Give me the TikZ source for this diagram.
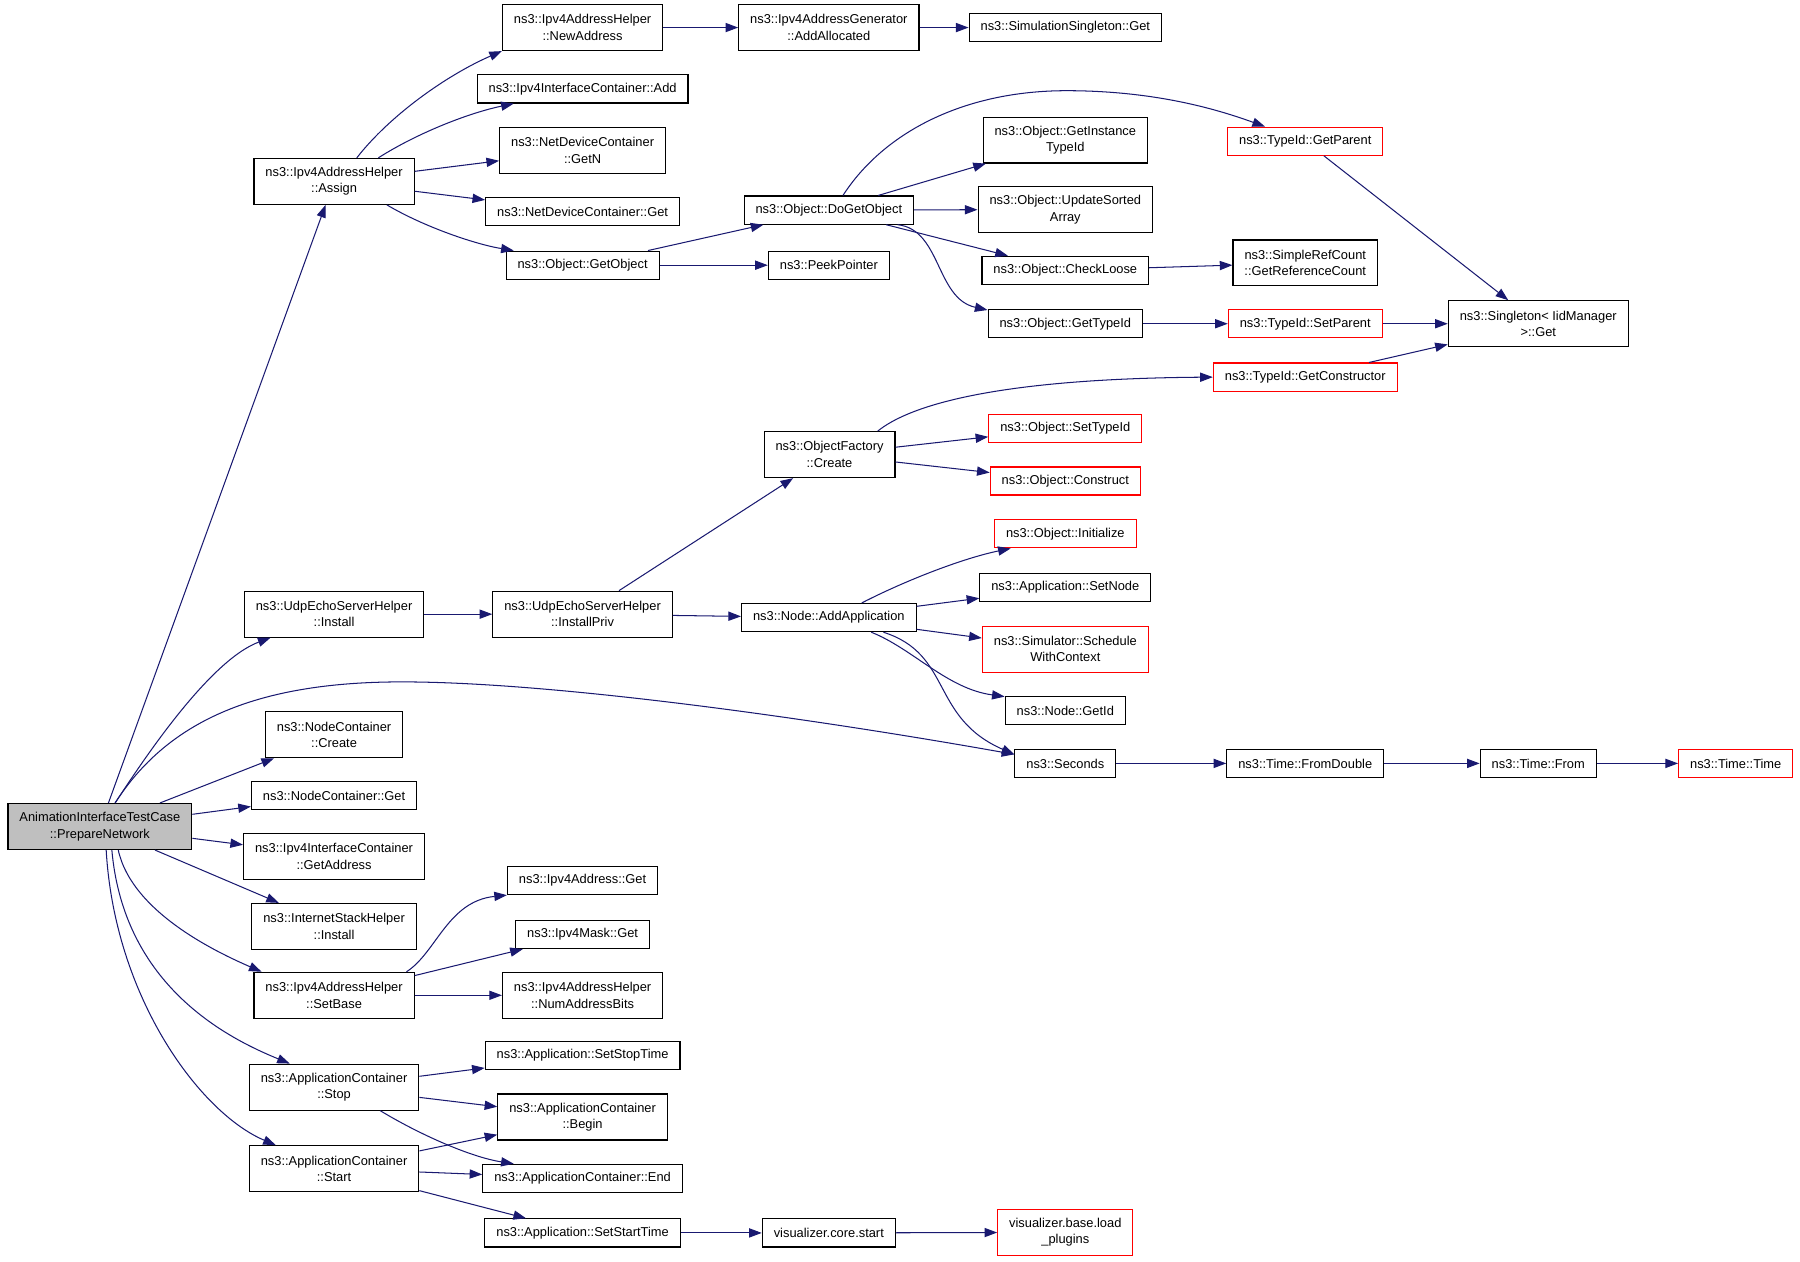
\documentclass[tikz,border=0pt]{standalone}
\usepackage{fontspec}
\setmainfont{Liberation Sans}
\usepackage{tikz}
\usetikzlibrary{arrows.meta}
\definecolor{edge}{RGB}{25, 25, 112}
\definecolor{rootfill}{RGB}{191, 191, 191}
\definecolor{miss}{RGB}{255, 0, 0}
\newcommand{\fnfont}{\fontsize{11.2}{14.3}\selectfont}

\begin{document}
\begin{tikzpicture}[x=1pt, y=-1pt,
  fn/.style={draw=black, line width=1pt, rectangle, inner xsep=10pt, inner ysep=2pt,
    minimum height=24.5pt, align=center, font=\fnfont},
  fn2/.style={fn, minimum height=40pt},
  lost/.style={draw=miss},
  call/.style={draw=edge, line width=0.9pt, -{Triangle[length=11pt, width=8pt]}}]

  \useasboundingbox (0, 0) rectangle (1568, 1098.5);

  \node[fn2, fill=rootfill] (root) at (87, 720) {AnimationInterfaceTestCase\\::PrepareNetwork};

  % callees of the test case
  \node[fn2] (assign) at (291, 158) {ns3::Ipv4AddressHelper\\::Assign};
  \node[fn2] (udpInst) at (291, 535) {ns3::UdpEchoServerHelper\\::Install};
  \node[fn2] (ncCreate) at (291, 640) {ns3::NodeContainer\\::Create};
  \node[fn] (ncGet) at (291, 693) {ns3::NodeContainer::Get};
  \node[fn2] (icGetAddr) at (291, 746) {ns3::Ipv4InterfaceContainer\\::GetAddress};
  \node[fn2] (ishInst) at (291, 807) {ns3::InternetStackHelper\\::Install};
  \node[fn2] (setBase) at (291, 867) {ns3::Ipv4AddressHelper\\::SetBase};
  \node[fn2] (acStop) at (291, 947) {ns3::ApplicationContainer\\::Stop};
  \node[fn2] (acStart) at (291, 1018) {ns3::ApplicationContainer\\::Start};

  \node[fn2] (newAddr) at (507.5, 24) {ns3::Ipv4AddressHelper\\::NewAddress};
  \node[fn] (icAdd) at (507.5, 77.5) {ns3::Ipv4InterfaceContainer::Add};
  \node[fn2] (ndcGetN) at (507.5, 131) {ns3::NetDeviceContainer\\::GetN};
  \node[fn] (ndcGet) at (507.5, 184.5) {ns3::NetDeviceContainer::Get};
  \node[fn] (getObj) at (507.5, 231) {ns3::Object::GetObject};
  \node[fn2] (installPriv) at (507.5, 535) {ns3::UdpEchoServerHelper\\::InstallPriv};
  \node[fn] (addrGet) at (507.5, 767) {ns3::Ipv4Address::Get};
  \node[fn] (maskGet) at (507.5, 814) {ns3::Ipv4Mask::Get};
  \node[fn2] (numBits) at (507.5, 867) {ns3::Ipv4AddressHelper\\::NumAddressBits};
  \node[fn] (setStop) at (507.5, 919.5) {ns3::Application::SetStopTime};
  \node[fn2] (acBegin) at (507.5, 973) {ns3::ApplicationContainer\\::Begin};
  \node[fn] (acEnd) at (507.5, 1026.5) {ns3::ApplicationContainer::End};
  \node[fn] (setStart) at (507.5, 1074) {ns3::Application::SetStartTime};

  \node[fn2] (addAlloc) at (722, 24) {ns3::Ipv4AddressGenerator\\::AddAllocated};
  \node[fn] (doGetObj) at (722, 183) {ns3::Object::DoGetObject};
  \node[fn] (peek) at (722, 231) {ns3::PeekPointer};
  \node[fn2] (ofCreate) at (722.6, 396) {ns3::ObjectFactory\\::Create};
  \node[fn] (addApp) at (722, 538) {ns3::Node::AddApplication};
  \node[fn] (coreStart) at (722, 1074) {visualizer.core.start};

  \node[fn] (simGet) at (928, 24) {ns3::SimulationSingleton::Get};
  \node[fn2] (instTid) at (928, 122) {ns3::Object::GetInstance\\TypeId};
  \node[fn2] (sorted) at (928, 182.5) {ns3::Object::UpdateSorted\\Array};
  \node[fn] (checkLoose) at (928, 235.5) {ns3::Object::CheckLoose};
  \node[fn] (getTid) at (928, 282) {ns3::Object::GetTypeId};
  \node[fn, lost] (setTid) at (928, 373) {ns3::Object::SetTypeId};
  \node[fn, lost] (construct) at (928, 419) {ns3::Object::Construct};
  \node[fn, lost] (init) at (928, 465) {ns3::Object::Initialize};
  \node[fn] (setNode) at (928, 511.5) {ns3::Application::SetNode};
  \node[fn2, lost] (sched) at (928, 565.5) {ns3::Simulator::Schedule\\WithContext};
  \node[fn] (getId) at (928, 619) {ns3::Node::GetId};
  \node[fn] (seconds) at (928, 665) {ns3::Seconds};
  \node[fn2, lost] (loadPlug) at (928, 1073.5) {visualizer.base.load\\\_plugins};

  \node[fn, lost] (getParent) at (1137, 123) {ns3::TypeId::GetParent};
  \node[fn2] (refCount) at (1137, 229) {ns3::SimpleRefCount\\::GetReferenceCount};
  \node[fn, lost] (setParent) at (1137, 282) {ns3::TypeId::SetParent};
  \node[fn, lost] (getCtor) at (1137, 328.5) {ns3::TypeId::GetConstructor};
  \node[fn] (fromDouble) at (1137, 665) {ns3::Time::FromDouble};

  \node[fn2] (singleton) at (1340, 282) {ns3::Singleton\textless{} IidManager\\\textgreater{}::Get};
  \node[fn] (timeFrom) at (1340, 665) {ns3::Time::From};
  \node[fn, lost] (timeTime) at (1512, 665) {ns3::Time::Time};

  % straight calls
  \foreach \a/\b in {root/assign, root/ncCreate, root/ncGet, root/icGetAddr, root/ishInst,
      assign/ndcGetN, assign/ndcGet, newAddr/addAlloc, addAlloc/simGet,
      getObj/doGetObj, getObj/peek, doGetObj/instTid, doGetObj/sorted, doGetObj/checkLoose,
      getParent/singleton, checkLoose/refCount, getTid/setParent, setParent/singleton,
      getCtor/singleton, udpInst/installPriv, installPriv/ofCreate, installPriv/addApp,
      ofCreate/setTid, ofCreate/construct, addApp/setNode, addApp/sched,
      seconds/fromDouble, fromDouble/timeFrom, timeFrom/timeTime,
      setBase/maskGet, setBase/numBits, acStop/setStop, acStop/acBegin,
      acStart/acBegin, acStart/acEnd, acStart/setStart, setStart/coreStart, coreStart/loadPlug} {
    \draw[call] (\a) -- (\b);
  }

  % curved calls
  \draw[call] (root) .. controls (126, 660) and (183, 575) .. (udpInst);
  \draw[call] (root) .. controls (145, 630) and (220, 594) .. (350, 594)
    .. controls (480, 594) and (703, 625) .. (seconds);
  \draw[call] (root.-52) .. controls (115, 795) and (190, 830) .. (setBase.162);
  \draw[call] (root.-63) .. controls (108, 860) and (200, 905) .. (acStop.152);
  \draw[call] (root.-75) .. controls (100, 870) and (175, 970) .. (acStart.158);

  \draw[call] (assign.46) .. controls (340, 100) and (390, 65) .. (newAddr.south west);
  \draw[call] (assign.28) .. controls (365, 115) and (410, 98) .. (icAdd.192);
  \draw[call] (assign.-24) .. controls (370, 198) and (415, 213) .. (getObj.168);

  \draw[call] (doGetObj.46) .. controls (770, 115) and (840, 79) .. (929, 79)
    .. controls (1010, 79) and (1065, 97) .. (getParent.160);
  \draw[call] (doGetObj.-12) .. controls (820, 200) and (815, 260) .. (getTid.170);

  \draw[call] (ofCreate.26) .. controls (790, 355) and (860, 330) .. (getCtor.west);

  \draw[call] (addApp.24) .. controls (790, 505) and (840, 486) .. (init.195);
  \draw[call] (addApp.-19) .. controls (795, 565) and (825, 600) .. (getId.167);
  \draw[call] (addApp.-15) .. controls (830, 570) and (810, 625) .. (seconds.170);

  \draw[call] (setBase.18) .. controls (380, 830) and (390, 785) .. (addrGet.south west);
  \draw[call] (acStop.-27) .. controls (365, 988) and (410, 1008) .. (acEnd.168);

\end{tikzpicture}
\end{document}
